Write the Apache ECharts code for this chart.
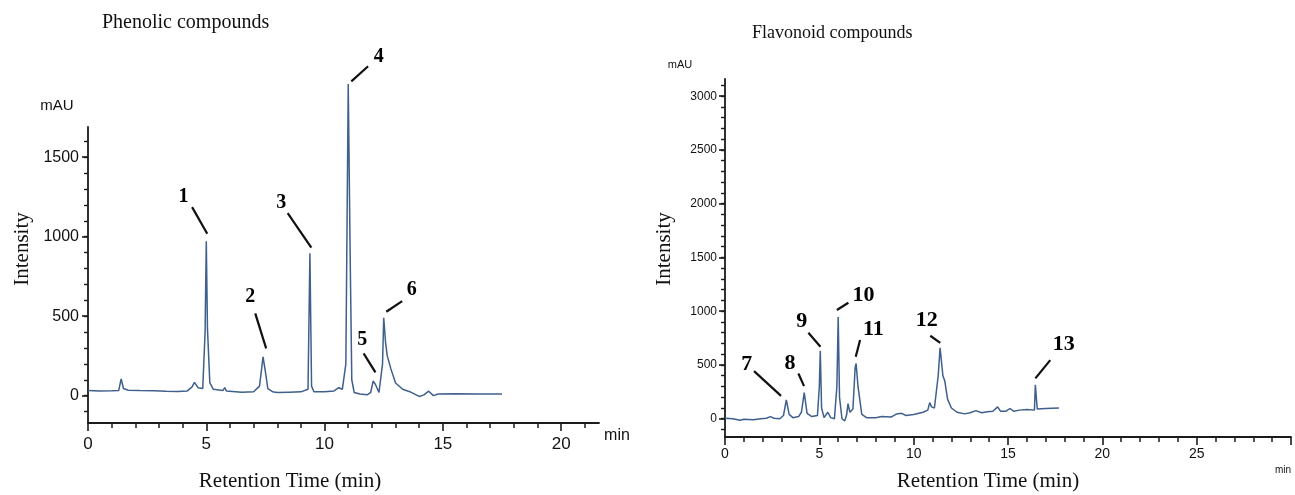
<!DOCTYPE html>
<html>
<head>
<meta charset="utf-8">
<script src="https://cdn.jsdelivr.net/npm/echarts@6/dist/echarts.min.js"></script>
<style>
  html, body { margin: 0; padding: 0; background: #fff; }
  #chart { width: 1295px; height: 495px; }
</style>
</head>
<body>
<div id="chart"></div>
<script>
// Phenolic chromatogram (retention time in min, signal in mAU)
const leftTime = [0.0, 0.5, 1.0, 1.3, 1.4, 1.5, 1.7, 2.2, 2.8, 3.3, 3.8, 4.2, 4.4, 4.5, 4.65, 4.85, 4.95, 5.0, 5.05, 5.15,
  5.3, 5.7, 5.78, 5.85, 6.5, 7.0, 7.25, 7.4, 7.5, 7.6, 7.8, 8.0, 8.5, 9.0, 9.3, 9.38, 9.45, 9.55, 10.0, 10.4,
  10.6, 10.75, 10.9, 11.0, 11.08, 11.15, 11.25, 11.5, 11.8, 11.95, 12.05, 12.15, 12.3, 12.45, 12.5, 12.58, 12.65, 12.72, 12.8, 13.0,
  13.3, 13.6, 14.0, 14.2, 14.4, 14.6, 14.8, 15.5, 16.5, 17.5];
const leftSignal = [32, 30, 31, 33, 105, 45, 34, 32, 31, 28, 26, 30, 55, 84, 50, 45, 400, 972, 420, 80,
  40, 32, 50, 30, 22, 25, 60, 244, 150, 45, 25, 20, 22, 24, 40, 895, 60, 25, 25, 30,
  50, 40, 200, 1960, 900, 100, 20, 10, 5, 20, 92, 70, 20, 200, 490, 330, 250, 240, 170, 80,
  40, 25, -5, 5, 28, 0, 10, 12, 10, 10];

// Flavonoid chromatogram
const rightTime = [0.0, 0.4, 0.8, 1.0, 1.5, 1.9, 2.2, 2.4, 2.6, 2.9, 3.1, 3.25, 3.4, 3.6, 3.9, 4.05, 4.2, 4.35, 4.6, 4.9,
  5.0, 5.05, 5.12, 5.25, 5.45, 5.6, 5.8, 5.93, 6.0, 6.07, 6.2, 6.35, 6.45, 6.52, 6.62, 6.78, 6.9, 6.95, 7.05, 7.25,
  7.5, 8.0, 8.3, 8.8, 9.1, 9.35, 9.6, 10.0, 10.5, 10.75, 10.85, 10.95, 11.1, 11.3, 11.4, 11.55, 11.65, 11.8, 12.0, 12.3,
  12.7, 13.0, 13.3, 13.6, 13.9, 14.2, 14.45, 14.6, 14.9, 15.1, 15.3, 15.6, 16.0, 16.4, 16.45, 16.55, 17.0, 17.7];
const rightSignal = [5, 0, -15, -5, -10, 0, 5, 20, 5, 0, 30, 175, 40, 10, 20, 60, 243, 50, 20, 30,
  300, 633, 100, 10, 60, 10, 0, 300, 945, 200, 0, -20, 40, 140, 60, 90, 480, 514, 300, 40,
  10, 10, 20, 15, 45, 50, 30, 40, 60, 80, 150, 110, 100, 400, 660, 400, 350, 180, 100, 60,
  45, 55, 75, 55, 65, 70, 110, 70, 70, 95, 70, 80, 85, 80, 315, 90, 95, 100];

// peak labels: text centre and leader line ends, in data units
const leftPeakNames = ['1', '2', '3', '4', '5', '6'];
const leftLabelAt = [[4.04, 1253], [6.86, 620], [8.17, 1215], [12.29, 2131], [11.59, 350], [13.69, 665]];
const leftLeaderFrom = [[4.40, 1186], [7.07, 518], [8.44, 1148], [11.13, 1977], [11.65, 266], [12.61, 528]];
const leftLeaderTo = [[5.04, 1018], [7.53, 297], [9.44, 931], [11.84, 2072], [12.15, 146], [13.28, 595]];

const rightPeakNames = ['7', '8', '9', '10', '11', '12', '13'];
const rightLabelAt = [[1.15, 508], [3.45, 514], [4.07, 902], [7.34, 1151], [7.87, 831], [10.70, 918], [17.95, 694]];
const rightLeaderFrom = [[1.54, 443], [3.89, 421], [4.42, 800], [5.93, 1011], [6.93, 576], [10.88, 772], [16.45, 375]];
const rightLeaderTo = [[2.97, 212], [4.19, 303], [5.06, 669], [6.54, 1079], [7.16, 732], [11.41, 706], [17.24, 545]];

// tick labels
const leftXLabels = [0, 5, 10, 15, 20];
const leftYLabels = [0, 500, 1000, 1500];
const rightXLabels = [0, 5, 10, 15, 20, 25];
const rightXMajor = [0, 5, 10, 15, 20, 25, 30];
const rightYLabels = [0, 500, 1000, 1500, 2000, 2500, 3000];

function steps(from, to, step) {
  let out = [];
  for (let v = from; v <= to + 1e-9; v += step) out.push(Math.round(v * 100) / 100);
  return out;
}

const lineColor = '#3f5f8c';
const axisColor = '#1b1b1b';
const sans = '"Liberation Sans", Arial, sans-serif';
const serif = '"Liberation Serif", "DejaVu Serif", serif';

function pairs(xs, ys) {
  return xs.map((x, i) => [x, ys[i]]);
}

function majorX(grid, min, max, ticks, labels, fontSize, margin) {
  return {
    gridIndex: grid, type: 'value', position: 'bottom', min: min, max: max,
    axisLine: { show: true, onZero: false, lineStyle: { color: axisColor, width: 1.8 } },
    axisTick: { show: true, customValues: ticks, length: 8, lineStyle: { color: axisColor, width: 1.6 } },
    axisLabel: { customValues: labels, formatter: v => String(v), margin: margin, fontSize: fontSize, fontFamily: sans, color: '#111' },
    splitLine: { show: false }
  };
}
function minorX(grid, min, max, ticks) {
  return {
    gridIndex: grid, type: 'value', position: 'bottom', min: min, max: max,
    axisLine: { show: false, onZero: false },
    axisTick: { show: true, customValues: ticks, length: 5, lineStyle: { color: axisColor, width: 1.5 } },
    axisLabel: { show: false },
    splitLine: { show: false }
  };
}
function majorY(grid, min, max, labels, fontSize, margin) {
  return {
    gridIndex: grid, type: 'value', position: 'left', min: min, max: max,
    axisLine: { show: true, onZero: false, lineStyle: { color: axisColor, width: 1.8 } },
    axisTick: { show: true, customValues: labels, length: 6, lineStyle: { color: axisColor, width: 1.6 } },
    axisLabel: { customValues: labels, formatter: v => String(v), margin: margin, fontSize: fontSize, fontFamily: sans, color: '#111' },
    splitLine: { show: false }
  };
}
function minorY(grid, min, max, ticks) {
  return {
    gridIndex: grid, type: 'value', position: 'left', min: min, max: max,
    axisLine: { show: false, onZero: false },
    axisTick: { show: true, customValues: ticks, length: 4, lineStyle: { color: axisColor, width: 1.4 } },
    axisLabel: { show: false },
    splitLine: { show: false }
  };
}

function peakSeries(axisIdx, names, at, from, to, fontSize) {
  return [
    {
      type: 'lines', coordinateSystem: 'cartesian2d', xAxisIndex: axisIdx, yAxisIndex: axisIdx,
      clip: false, silent: true,
      lineStyle: { color: '#111', width: 2.2, opacity: 1, curveness: 0 },
      data: from.map((p, i) => ({ coords: [p, to[i]] }))
    },
    {
      type: 'scatter', xAxisIndex: axisIdx, yAxisIndex: axisIdx, clip: false, silent: true,
      symbolSize: 0, itemStyle: { color: 'rgba(0,0,0,0)' },
      label: {
        show: true, position: 'inside', formatter: '{b}', opacity: 1,
        fontFamily: serif, fontWeight: 'bold', fontSize: fontSize, color: '#000',
        textBorderWidth: 0
      },
      data: at.map((p, i) => ({ name: names[i], value: p }))
    }
  ];
}

let myChart = echarts.init(document.getElementById('chart'));
myChart.setOption({
  animation: false,
  backgroundColor: '#fff',
  grid: [
    { left: 88, top: 127, width: 511, height: 296, outerBoundsMode: 'none' },
    { left: 725, top: 79, width: 566, height: 358, outerBoundsMode: 'none' }
  ],
  xAxis: [
    majorX(0, 0, 21.6, leftXLabels, leftXLabels, 17, 13),
    minorX(0, 0, 21.6, steps(1, 21, 1).filter(v => v % 5 !== 0)),
    majorX(1, 0, 30, rightXMajor, rightXLabels, 14, 10),
    minorX(1, 0, 30, steps(1, 29, 1).filter(v => v % 5 !== 0))
  ],
  yAxis: [
    majorY(0, -172, 1690, leftYLabels, 16, 9),
    minorY(0, -172, 1690, steps(-100, 1600, 100)),
    majorY(1, -170, 3160, rightYLabels, 12, 8),
    minorY(1, -170, 3160, steps(-100, 3100, 100))
  ],
  graphic: [
    { type: 'text', x: 102, y: 23, style: { text: 'Phenolic compounds', fontFamily: serif, fontSize: 20, fill: '#111', verticalAlign: 'middle' } },
    { type: 'text', x: 752, y: 33, style: { text: 'Flavonoid compounds', fontFamily: serif, fontSize: 18, fill: '#111', verticalAlign: 'middle' } },
    { type: 'text', x: 57, y: 106, style: { text: 'mAU', fontFamily: sans, fontSize: 15, fill: '#111', align: 'center', verticalAlign: 'middle' } },
    { type: 'text', x: 680, y: 65, style: { text: 'mAU', fontFamily: sans, fontSize: 11, fill: '#111', align: 'center', verticalAlign: 'middle' } },
    { type: 'text', x: 617, y: 436, style: { text: 'min', fontFamily: sans, fontSize: 16, fill: '#111', align: 'center', verticalAlign: 'middle' } },
    { type: 'text', x: 1283, y: 470, style: { text: 'min', fontFamily: sans, fontSize: 10, fill: '#111', align: 'center', verticalAlign: 'middle' } },
    { type: 'text', x: 290, y: 481, style: { text: 'Retention Time (min)', fontFamily: serif, fontSize: 21, fill: '#111', align: 'center', verticalAlign: 'middle' } },
    { type: 'text', x: 988, y: 481, style: { text: 'Retention Time (min)', fontFamily: serif, fontSize: 21, fill: '#111', align: 'center', verticalAlign: 'middle' } },
    { type: 'text', x: 22, y: 249, rotation: Math.PI / 2, style: { text: 'Intensity', fontFamily: serif, fontSize: 21, fill: '#111', align: 'center', verticalAlign: 'middle' } },
    { type: 'text', x: 664, y: 249, rotation: Math.PI / 2, style: { text: 'Intensity', fontFamily: serif, fontSize: 21, fill: '#111', align: 'center', verticalAlign: 'middle' } }
  ],
  series: [
    {
      name: 'Phenolic', type: 'line', xAxisIndex: 0, yAxisIndex: 0, clip: false,
      showSymbol: false, symbol: 'none', lineStyle: { color: lineColor, width: 1.5 },
      data: pairs(leftTime, leftSignal)
    },
    ...peakSeries(0, leftPeakNames, leftLabelAt, leftLeaderFrom, leftLeaderTo, 20),
    {
      name: 'Flavonoid', type: 'line', xAxisIndex: 2, yAxisIndex: 2, clip: false,
      showSymbol: false, symbol: 'none', lineStyle: { color: lineColor, width: 1.5 },
      data: pairs(rightTime, rightSignal)
    },
    ...peakSeries(2, rightPeakNames, rightLabelAt, rightLeaderFrom, rightLeaderTo, 22)
  ]
});
</script>
</body>
</html>
